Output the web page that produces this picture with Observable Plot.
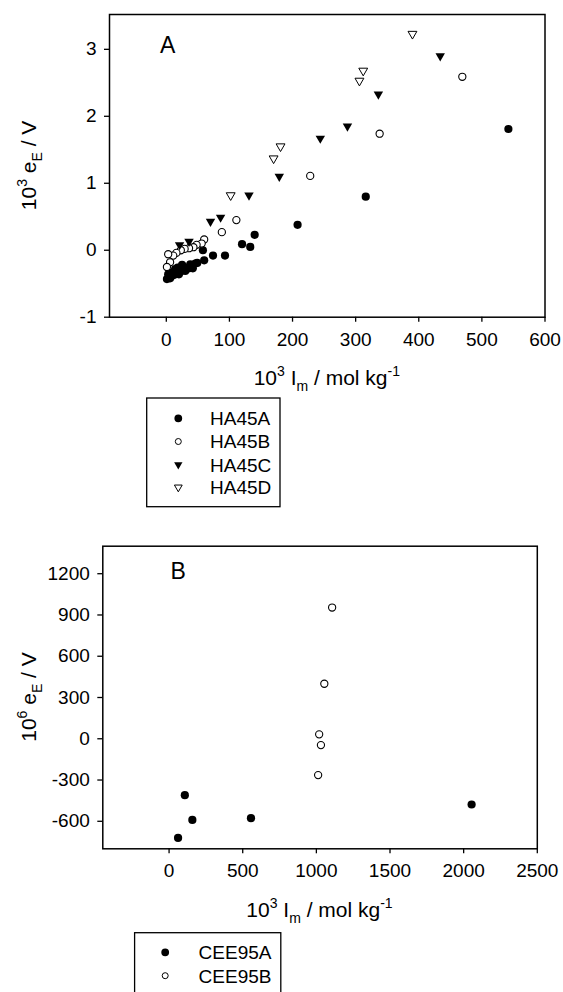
<!DOCTYPE html>
<html>
<head>
<meta charset="utf-8">
<script src="https://cdn.jsdelivr.net/npm/d3@7"></script>
<script src="https://cdn.jsdelivr.net/npm/@observablehq/plot@0.6"></script>
<style>
  html, body { margin: 0; padding: 0; background: #fff; }
  #root { position: relative; width: 563px; height: 992px; overflow: hidden; background: #fff;
          font-family: "Liberation Sans", Arial, sans-serif; }
  #root > svg, #root > figure { position: absolute; left: 0; margin: 0; }
</style>
</head>
<body>
<div id="root"></div>
<script>
// ---------- Data ----------
// Panel A: 10^3 I_m (mol/kg) vs 10^3 e_E (V)
const ha45A_x = [542, 316, 208, 140, 120, 133, 93, 74, 60, 58, 49, 40, 33, 27, 22, 17, 12, 8, 4, 1, 25, 14, 30, 36, 3, 10, 18, 42, 20, 6, 38, 46];
const ha45A_y = [1.81, 0.80, 0.38, 0.23, 0.09, 0.05, -0.08, -0.08, -0.15, 0.0, -0.19, -0.23, -0.26, -0.29, -0.32, -0.34, -0.37, -0.39, -0.41, -0.43, -0.22, -0.28, -0.31, -0.27, -0.36, -0.33, -0.26, -0.27, -0.36, -0.42, -0.21, -0.20];
const ha45B_x = [469, 338, 228, 111, 88, 60, 56, 48, 43, 36, 29, 23, 16, 11, 6, 3, 1];
const ha45B_y = [2.59, 1.74, 1.11, 0.45, 0.27, 0.16, 0.10, 0.08, 0.045, 0.03, 0.02, 0.0, -0.04, -0.08, -0.18, -0.06, -0.25];
const ha45C_x = [434, 336, 287, 244, 179, 131, 86, 70, 36, 21];
const ha45C_y = [2.90, 2.33, 1.85, 1.67, 1.10, 0.82, 0.49, 0.43, 0.13, 0.08];
const ha45D_x = [390, 312, 306, 181, 170, 102];
const ha45D_y = [3.23, 2.68, 2.53, 1.55, 1.37, 0.82];

// Panel B: 10^3 I_m (mol/kg) vs 10^6 e_E (V)
const cee95A_x = [61, 107, 158, 556, 2054];
const cee95A_y = [-721, -410, -590, -577, -478];
const cee95B_x = [1012, 1019, 1031, 1054, 1107];
const cee95B_y = [-264, 32, -46, 400, 954];

// Ticks
const xTicksA = [0, 100, 200, 300, 400, 500, 600];
const yTicksA = [-1, 0, 1, 2, 3];
const xTicksB = [0, 500, 1000, 1500, 2000, 2500];
const yTicksB = [-600, -300, 0, 300, 600, 900, 1200];

// Legend labels
const seriesA = ["HA45A", "HA45B", "HA45C", "HA45D"];
const seriesB = ["CEE95A", "CEE95B"];

// ---------- Helpers ----------
const FONT = "'Liberation Sans', Arial, sans-serif";
const zip = (xs, ys) => xs.map((x, i) => ({x, y: ys[i]}));
const triangleDown = {
  draw(context, size) {
    const y = -Math.sqrt(size / (Math.sqrt(3) * 3));
    context.moveTo(0, -y * 2);
    context.lineTo(-Math.sqrt(3) * y, y);
    context.lineTo(Math.sqrt(3) * y, y);
    context.closePath();
  }
};
const fmt = d => String(d);
const styleA = {
  filledCircle: {r: 4.1, fill: "black", stroke: "none"},
  openCircle: {r: 3.6, fill: "white", stroke: "black", strokeWidth: 1.1},
  filledTri: {r: 3.5, symbol: triangleDown, fill: "black", stroke: "none"},
  openTri: {r: 3.3, symbol: triangleDown, fill: "white", stroke: "black", strokeWidth: 1}
};
function axes(xTicks, yTicks) {
  return [
    Plot.axisX({ticks: xTicks, tickFormat: fmt, tickSize: 5, tickPadding: 10, label: null,
                fontSize: 19, strokeWidth: 1.3}),
    Plot.axisY({ticks: yTicks, tickFormat: fmt, tickSize: 5, tickPadding: 8, label: null,
                fontSize: 19, strokeWidth: 1.3})
  ];
}

const root = document.getElementById("root");

// ---------- Panel A ----------
const plotA = Plot.plot({
  width: 563, height: 350,
  marginLeft: 109, marginRight: 18.5, marginTop: 14, marginBottom: 33.3,
  style: {fontFamily: FONT, color: "black", background: "transparent", overflow: "visible"},
  x: {domain: [-90, 600]},
  y: {domain: [-1, 3.52]},
  marks: [
    ...axes(xTicksA, yTicksA),
    Plot.dot(zip(ha45A_x, ha45A_y), {x: "x", y: "y", ...styleA.filledCircle}),
    Plot.dot(zip(ha45B_x, ha45B_y), {x: "x", y: "y", ...styleA.openCircle}),
    Plot.dot(zip(ha45C_x, ha45C_y), {x: "x", y: "y", ...styleA.filledTri}),
    Plot.dot(zip(ha45D_x, ha45D_y), {x: "x", y: "y", ...styleA.openTri}),
    Plot.frame({stroke: "black", strokeWidth: 1.5})
  ]
});
plotA.style.top = "0px";
root.appendChild(plotA);

// ---------- Panel B ----------
const plotB = Plot.plot({
  width: 563, height: 352,
  marginLeft: 102.3, marginRight: 26.2, marginTop: 15.7, marginBottom: 33.7,
  style: {fontFamily: FONT, color: "black", background: "transparent", overflow: "visible"},
  x: {domain: [-450, 2500]},
  y: {domain: [-800, 1400]},
  marks: [
    ...axes(xTicksB, yTicksB),
    Plot.dot(zip(cee95A_x, cee95A_y), {x: "x", y: "y", ...styleA.filledCircle}),
    Plot.dot(zip(cee95B_x, cee95B_y), {x: "x", y: "y", ...styleA.openCircle}),
    Plot.frame({stroke: "black", strokeWidth: 1.5})
  ]
});
plotB.style.top = "530px";
root.appendChild(plotB);

// ---------- Text overlay: panel letters, axis titles, legends ----------
const ov = d3.select(root).append("svg")
  .attr("width", 563).attr("height", 992)
  .style("position", "absolute").style("left", "0px").style("top", "0px")
  .style("pointer-events", "none")
  .attr("font-family", FONT).attr("fill", "black");

function panelLetter(txt, x, y) {
  ov.append("text").attr("x", x).attr("y", y).attr("font-size", 23).text(txt);
}
panelLetter("A", 160, 53.3);
panelLetter("B", 170.6, 579.3);

function xTitle(cx, baseline) {
  const t = ov.append("text").attr("x", cx).attr("y", baseline)
    .attr("text-anchor", "middle").attr("font-size", 21);
  t.append("tspan").text("10");
  t.append("tspan").attr("font-size", 14).attr("dy", -9).text("3");
  t.append("tspan").attr("dy", 9).text("\u00a0I");
  t.append("tspan").attr("font-size", 14).attr("dy", 6).text("m");
  t.append("tspan").attr("dy", -6).text(" / mol kg");
  t.append("tspan").attr("font-size", 14).attr("dy", -9).text("-1");
}
function yTitle(bx, cy, pow) {
  const t = ov.append("text").attr("transform", `translate(${bx},${cy}) rotate(-90)`)
    .attr("text-anchor", "middle").attr("font-size", 21);
  t.append("tspan").text("10");
  t.append("tspan").attr("font-size", 14).attr("dy", -9).text(pow);
  t.append("tspan").attr("dy", 9).text("\u00a0e");
  t.append("tspan").attr("font-size", 14).attr("dy", 6).text("E");
  t.append("tspan").attr("dy", -6).text(" / V");
}
xTitle(326.8, 385);
yTitle(35.5, 165.4, "3");
xTitle(319.5, 916.7);
yTitle(36, 697, "6");

const legendSymbols = {
  HA45A: {type: d3.symbolCircle, r: 3.9, fill: "black", stroke: "none"},
  HA45B: {type: d3.symbolCircle, r: 3.0, fill: "white", stroke: "black"},
  HA45C: {type: triangleDown, r: 3.1, fill: "black", stroke: "none"},
  HA45D: {type: triangleDown, r: 2.9, fill: "white", stroke: "black"},
  CEE95A: {type: d3.symbolCircle, r: 3.9, fill: "black", stroke: "none"},
  CEE95B: {type: d3.symbolCircle, r: 3.0, fill: "white", stroke: "black"}
};
function legend(names, x0, y0, w, h, mx, tx, rows) {
  ov.append("rect").attr("x", x0).attr("y", y0).attr("width", w).attr("height", h)
    .attr("fill", "none").attr("stroke", "black").attr("stroke-width", 1.3);
  names.forEach((n, i) => {
    const s = legendSymbols[n];
    const cy = rows[i];
    ov.append("path")
      .attr("d", d3.symbol(s.type, Math.PI * s.r * s.r)())
      .attr("transform", `translate(${mx},${cy})`)
      .attr("fill", s.fill).attr("stroke", s.stroke).attr("stroke-width", 1);
    ov.append("text").attr("x", tx).attr("y", cy + 6.8).attr("font-size", 19).text(n);
  });
}
legend(seriesA, 146.7, 398, 133.3, 108.7, 178.3, 210, [418.3, 441.5, 464.7, 487.3]);
legend(seriesB, 134.6, 932.7, 146.2, 83, 165.2, 198.6, [952.3, 975.7]);
</script>
</body>
</html>
